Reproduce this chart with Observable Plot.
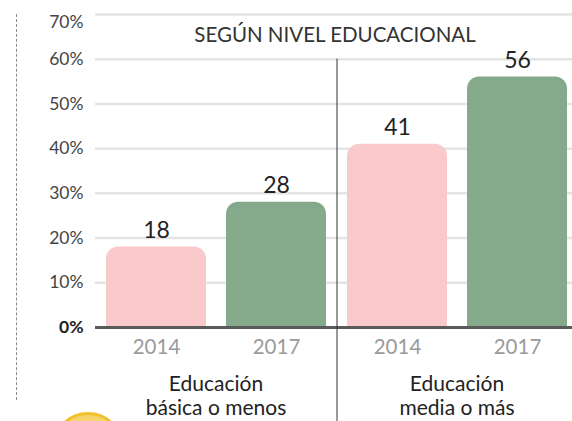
<!DOCTYPE html>
<html><head><meta charset="utf-8">
<script src="https://cdn.jsdelivr.net/npm/d3@7"></script>
<script src="https://cdn.jsdelivr.net/npm/@observablehq/plot@0.6"></script>
<style>
body{margin:0;background:#fff;font-family:Lato,sans-serif;}
#wrap{position:relative;width:572px;height:421px;overflow:hidden;}
#dash{position:absolute;left:16px;top:14px;height:386px;border-left:1px dashed #8a8a8a;}
#coin{position:absolute;left:52px;top:412px;width:72px;height:72px;border-radius:50%;background:#f3d36a;border:3px solid #f2c02c;box-sizing:border-box;}
#title{position:absolute;left:0;width:670px;top:22px;text-align:center;font-size:20.5px;color:#333;}
svg{position:absolute;left:0;top:0;}
</style></head>
<body><div id="wrap"><div id="dash"></div><div id="coin"></div></div>
<script>
const titleText = "SEGÚN NIVEL EDUCACIONAL";
const groups = ["Educación\nbásica o menos", "Educación\nmedia o más"];
const years = ["2014", "2017"];
const values = [[18, 28], [41, 56]];
const yTicks = [0, 10, 20, 30, 40, 50, 60, 70];
const colors = ["#f9c9cc", "#84aa8b"];

const data = [];
groups.forEach((g, i) => years.forEach((yr, j) => data.push({group: g, year: yr, value: values[i][j]})));
const groupRows = groups.map(g => ({group: g}));

const chart = Plot.plot({
  width: 572, height: 421,
  marginLeft: 95, marginRight: -5, marginTop: 14, marginBottom: 94,
  style: {fontFamily: "Lato, sans-serif", background: "transparent"},
  fx: {domain: groups, padding: 0, axis: null},
  x: {domain: years, paddingInner: 1/6, paddingOuter: 1/12, axis: null},
  y: {domain: [0, 70]},
  color: {domain: years, range: colors},
  marks: [
    Plot.ruleY(yTicks.filter(d => d > 0), {stroke: "#e4e4e4", strokeWidth: 2.5}),
    Plot.barY(data, {fx: "group", x: "year", y: "value", fill: "year", ry1: 12}),
    Plot.text(data, {fx: "group", x: "year", y: "value", text: d => String(d.value), lineAnchor: "bottom", dy: -9, fontSize: 23, fill: "#222"}),
    Plot.ruleY([0], {stroke: "#5a5a5a", strokeWidth: 3}),
    Plot.ruleX(groupRows.slice(1), {fx: "group", x: () => years[0], y1: 60, y2: -21, dx: -60.5, stroke: "#333", strokeWidth: 1, clip: false}),
    Plot.axisY({ticks: yTicks.filter(d => d > 0 && d < 70), tickSize: 0, tickPadding: 12, fontSize: 17.5, fill: "#444", tickFormat: d => d + "%", label: null}),
    Plot.axisY({ticks: [70], tickSize: 0, tickPadding: 12, fontSize: 17.5, fill: "#444", dy: 8, tickFormat: d => d + "%", label: null}),
    Plot.axisY({ticks: [0], tickSize: 0, tickPadding: 12, fontSize: 17.5, fill: "#222", fontWeight: "bold", tickFormat: d => d + "%", label: null}),
    Plot.axisX({tickSize: 0, tickPadding: 12, fontSize: 20.5, fill: "#9a9a9a", label: null}),
    Plot.text(groupRows, {fx: "group", text: "group", frameAnchor: "bottom", lineAnchor: "top", dy: 46, lineHeight: 1.15, fontSize: 21, fill: "#222"})
  ]
});
const wrap = document.getElementById("wrap");
wrap.insertBefore(chart, wrap.firstChild);
const t = document.createElement("div");
t.id = "title"; t.textContent = titleText;
wrap.appendChild(t);
</script>
</body></html>
